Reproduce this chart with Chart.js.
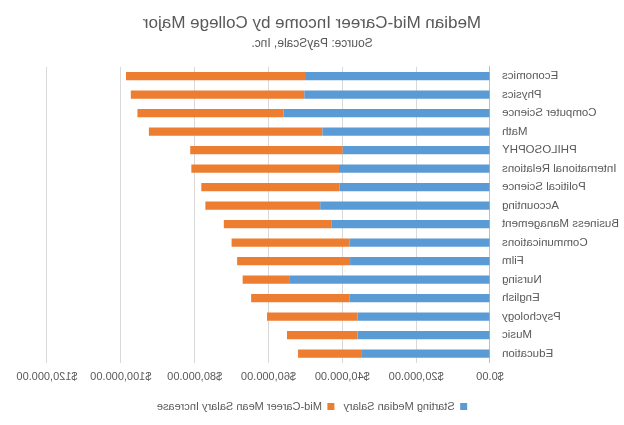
<!DOCTYPE html>
<html><head><meta charset="utf-8">
<script src="https://cdn.jsdelivr.net/npm/chart.js@4.4.0/dist/chart.umd.min.js"></script>
<style>html,body{margin:0;padding:0;background:#fff}#wrap{width:624px;height:425px;transform:scaleX(-1)}</style>
</head><body><div id="wrap"><canvas id="c" width="624" height="425"></canvas></div>
<script>
const majors = ["Economics","Physics","Computer Science","Math","PHILOSOPHY","International Relations","Political Science","Accounting","Business Management","Communications","Film","Nursing","English","Psychology","Music","Education"];
const startingMedian = [50100,50300,55900,45400,39900,40900,40800,46000,43000,38100,37900,54200,38000,35900,35900,34900];
const midCareerIncrease = [48500,47000,39600,47000,41300,40000,37400,31100,29100,31900,30600,12800,26700,24500,19100,17100];
const xTicks = [0,20000,40000,60000,80000,100000,120000];
const fontFam = "'Liberation Sans', Arial, sans-serif";
Chart.defaults.font.family = fontFam;
Chart.defaults.color = '#595959';
new Chart(document.getElementById('c'), {
  type: 'bar',
  data: {
    labels: majors,
    datasets: [
      {label: 'Starting Median Salary', data: startingMedian, backgroundColor: '#5B9BD5', barPercentage: 0.45, categoryPercentage: 1},
      {label: 'Mid-Career Mean Salary Increase', data: midCareerIncrease, backgroundColor: '#ED7D31', barPercentage: 0.45, categoryPercentage: 1}
    ]
  },
  options: {
    indexAxis: 'y',
    responsive: false,
    animation: false,
    layout: {padding: {left: 0, right: 0, top: 7, bottom: 3}},
    plugins: {
      title: {display: true, text: 'Median Mid-Career Income by College Major', font: {size: 17, weight: 'normal'}, color: '#595959', padding: {top: 6, bottom: 3}},
      subtitle: {display: true, text: 'Source: PayScale, Inc.', font: {size: 12}, color: '#595959', padding: {bottom: 16}},
      legend: {position: 'bottom', labels: {boxWidth: 7, boxHeight: 7, font: {size: 11}, padding: 9}},
      tooltip: {enabled: false}
    },
    scales: {
      x: {
        stacked: true, min: 0, max: 120000,
        afterBuildTicks: (s) => { s.ticks = xTicks.map(v => ({value: v})); },
        grid: {color: '#d9d9d9', drawTicks: false},
        border: {display: false},
        ticks: {font: {size: 11}, padding: 8, callback: v => '$' + Number(v).toLocaleString('en-US', {minimumFractionDigits: 2, maximumFractionDigits: 2})}
      },
      y: {
        stacked: true,
        afterFit: (s) => { s.width = 134; },
        grid: {display: false, drawTicks: false},
        border: {display: true, color: '#bfbfbf'},
        ticks: {font: {size: 11.5}, padding: 12}
      },
      ySpacer: {
        type: 'category',
        position: 'right',
        labels: majors,
        afterFit: (s) => { s.width = 47; },
        grid: {display: false, drawTicks: false},
        border: {display: false},
        ticks: {display: false}
      }
    }
  }
});
</script></body></html>
